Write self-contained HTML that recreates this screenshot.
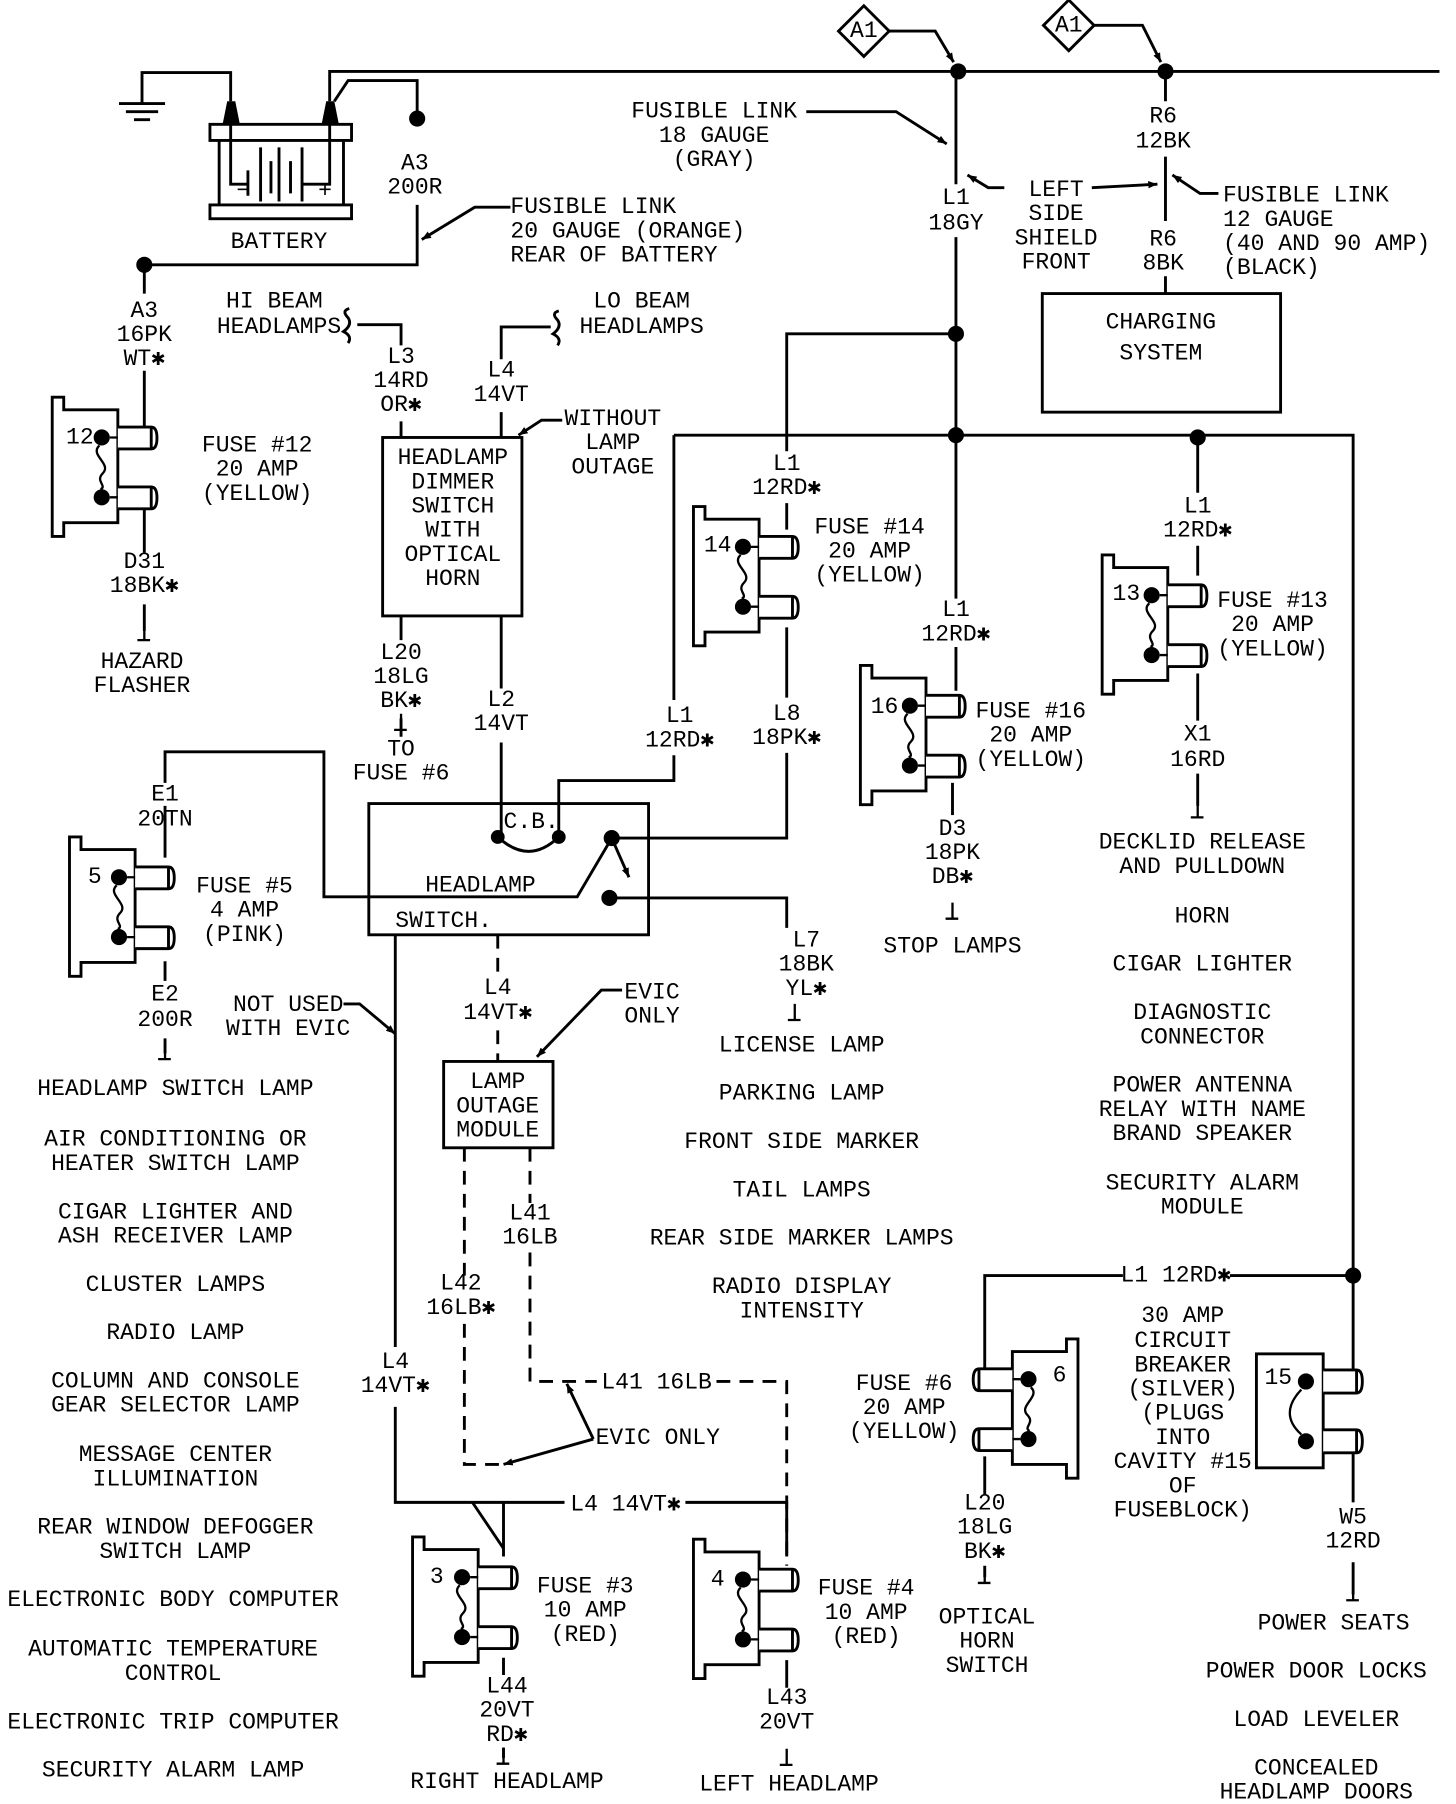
<!DOCTYPE html>
<html><head><meta charset="utf-8"><style>
html,body{margin:0;padding:0;background:#fff}
svg{display:block}
text{font-family:"Liberation Mono",monospace;font-size:20px;fill:#000;dominant-baseline:central}
.c{text-anchor:middle}
</style></head><body>
<svg width="1456" height="1804" viewBox="0 0 1264 1567" xmlns="http://www.w3.org/2000/svg">
<defs>
<marker id="ar" viewBox="0 0 10 10" refX="10" refY="5" markerWidth="8" markerHeight="8" orient="auto-start-reverse" markerUnits="userSpaceOnUse"><path d="M0,1 L10,5 L0,9 Z" fill="#000"/></marker>
<symbol id="fz" overflow="visible">
<path d="M0,0 H10 V11 H57 V109 H10 V121 H0 Z" fill="none" stroke="#000" stroke-width="2.5"/>
<path d="M57,26 H86 Q91,26 91,35.5 Q91,45 86,45 H57 M86,27 V44" fill="#fff" stroke="#000" stroke-width="2.5"/>
<path d="M57,78 H86 Q91,78 91,87.5 Q91,97 86,97 H57 M86,79 V96" fill="#fff" stroke="#000" stroke-width="2.5"/>
<circle cx="43" cy="35" r="7"/><circle cx="43" cy="87" r="7"/>
<path d="M50,35 H57 M50,87 H57" stroke="#000" stroke-width="2"/>
<path d="M41,42 C32,50 52,58 44,66 C37,73 48,77 42,80" fill="none" stroke="#000" stroke-width="2"/>
</symbol>
<symbol id="hk" overflow="visible"><path d="M0,-14 V0 H-6 M0,0 H5" fill="none" stroke="#000" stroke-width="2"/></symbol>
</defs>
<g fill="none" stroke="#000" stroke-width="2.5">
<!-- top wire -->
<path d="M286,88 V62 H1250"/>
<!-- ground -->
<path d="M200,88 V63 H123 V90"/>
<path d="M103,90 H143 M109,97 H137 M116,104 H130"/>
<!-- battery -->
<path d="M290,88 L302,70 H362 V103"/>
<rect x="182" y="108" width="123" height="14"/>
<rect x="182" y="178" width="123" height="12"/>
<path d="M190,122 V178 M298,122 V178"/>
<path d="M200,108 V160 H215 M215,148 V170 M226,128 V175 M235,140 V168 M242,128 V175 M252,140 V168 M262,128 V175 M262,160 H286 V108"/>
<path d="M362,178 V230 H125"/>
<path d="M443,180 H412 L366,208" marker-end="url(#ar)"/>
<!-- A3 left -->
<path d="M125,230 V255 M125,322 V380"/>
<path d="M125,432 V480 M125,525 V548"/>
<!-- A1 diamonds -->
<path d="M750,5 L772,27 L750,49 L728,27 Z"/>
<path d="M928,0 L950,22 L928,44 L906,22 Z"/>
<path d="M772,27 H812 L828,54" marker-end="url(#ar)"/>
<path d="M950,22 H992 L1008,54" marker-end="url(#ar)"/>
<!-- L1 trunk -->
<path d="M830,62 V160 M830,206 V520 M830,562 V600"/>
<path d="M700,97 H778 L822,125" marker-end="url(#ar)"/>
<path d="M872,163 H858 L840,152" marker-end="url(#ar)"/>
<path d="M948,163 L1005,160" marker-end="url(#ar)"/>
<!-- R6 -->
<path d="M1012,62 V88 M1012,136 V192 M1012,240 V255"/>
<path d="M1058,168 H1042 L1018,152" marker-end="url(#ar)"/>
<rect x="905" y="255" width="207" height="103"/>
<!-- branches -->
<path d="M830,290 H683 V392 M683,437 V460"/>
<path d="M585,378 H1175 V1200"/>
<path d="M585,378 V608 M585,656 V678 H485 V727"/>
<path d="M1040,380 V428 M1040,474 V500 M1040,585 V626 M1040,672 V700"/>
<path d="M683,545 V606 M683,654 V728 H537"/>
<path d="M827,680 V708"/>
<!-- HI/LO beam -->
<path d="M310,282 H348 V300 M348,366 V380"/>
<path d="M303,268 Q296,270 302,276 Q306,282 298,288 Q306,292 302,298"/>
<path d="M485,270 Q478,272 484,278 Q488,284 480,290 Q488,294 484,300"/>
<path d="M478,284 H435 V312 M435,358 V380"/>
<path d="M488,365 H470 L450,378" marker-end="url(#ar)"/>
<rect x="332" y="380" width="121" height="155"/>
<path d="M348,535 V556 M348,624 V640"/>
<path d="M435,535 V598 M435,645 V727"/>
<!-- headlamp switch -->
<rect x="320" y="698" width="243" height="114"/>
<path d="M432,727 Q459,752 485,727"/>
<path d="M143,680 V653 H281 V779 H501 L531,728"/>
<path d="M531,728 L546,762" marker-end="url(#ar)"/>
<path d="M529,780 H683 V806"/>
<path d="M143,700 V745 M143,835 V852 M143,902 V915"/>
<!-- not used w evic -->
<path d="M343,812 V1170 M343,1222 V1305 H490 M595,1305 H683 V1352 M437,1305 V1352"/>
<path d="M298,872 H312 L343,898" marker-end="url(#ar)"/>
<path d="M410,1305 L437,1345"/>
<!-- LOM -->
<rect x="385" y="922" width="95" height="75"/>
<path d="M540,860 H522 L466,918" marker-end="url(#ar)"/>
<path d="M437,1440 V1455 M683,1442 V1466 M437,1518 V1527"/>
<!-- fuse 6 / 15 -->
<path d="M855,1188 V1108 H975 M1068,1108 H1175"/>
<path d="M855,1265 V1298 M855,1360 V1370"/>
<rect x="1091" y="1176" width="58" height="99"/>
<path d="M1149,1190 H1178 Q1183,1190 1183,1200 Q1183,1210 1178,1210 H1149 M1178,1191 V1209" fill="#fff"/>
<path d="M1149,1242 H1178 Q1183,1242 1183,1252 Q1183,1262 1178,1262 H1149 M1178,1243 V1261" fill="#fff"/>
<path d="M1175,1262 V1305 M1175,1357 V1385"/>
<path d="M1130,1207 Q1110,1228 1130,1246" stroke-width="2"/>
</g>
<g fill="none" stroke="#000" stroke-width="2.5" stroke-dasharray="12,8">
<path d="M432,812 V848 M432,895 V922"/>
<path d="M403,997 V1108 M403,1150 V1272 H437"/>
<path d="M460,997 V1045 M460,1088 V1200 H518 M622,1200 H683 V1360"/>
</g>
<g fill="none" stroke="#000" stroke-width="2.5">
<path d="M515,1250 L492,1202" marker-end="url(#ar)"/>
<path d="M515,1250 L437,1272" marker-end="url(#ar)"/>
</g>
<!-- dots -->
<g fill="#000">
<circle cx="362" cy="103" r="7"/><circle cx="125" cy="230" r="7"/>
<circle cx="832" cy="62" r="7"/><circle cx="1012" cy="62" r="7"/>
<circle cx="830" cy="290" r="7"/><circle cx="830" cy="378" r="7"/><circle cx="1040" cy="380" r="7"/>
<circle cx="1175" cy="1108" r="7"/>
<circle cx="432" cy="727" r="6"/><circle cx="485" cy="727" r="6"/>
<circle cx="531" cy="728" r="7"/><circle cx="529" cy="780" r="7"/>
<circle cx="1134" cy="1200" r="7"/><circle cx="1134" cy="1252" r="7"/>
<path d="M193,108 L197,88 H204 L208,108 Z M279,108 L283,88 H290 L294,108 Z"/>
</g>
<!-- fuses -->
<use href="#fz" x="45" y="345"/>
<use href="#fz" x="602" y="440"/>
<use href="#fz" x="957" y="482"/>
<use href="#fz" x="747" y="578"/>
<use href="#fz" x="60" y="727"/>
<use href="#fz" x="358" y="1335"/>
<use href="#fz" x="602" y="1337"/>
<use href="#fz" transform="translate(936,1163) scale(-1,1)"/>
<!-- hooks -->
<g><use href="#hk" x="125" y="556"/><use href="#hk" x="348" y="634"/><use href="#hk" x="143" y="920"/>
<use href="#hk" x="690" y="886"/><use href="#hk" x="827" y="798"/><use href="#hk" x="1040" y="710"/>
<use href="#hk" x="437" y="1532"/><use href="#hk" x="683" y="1533"/><use href="#hk" x="855" y="1375"/><use href="#hk" x="1175" y="1390"/></g>
<!-- text -->
<text x="205" y="166">−</text><text x="276" y="166">+</text>
<text class="c" x="242" y="210">BATTERY</text>
<text class="c" x="360" y="142">A3</text><text class="c" x="360" y="163">200R</text>
<text x="443" y="180">FUSIBLE LINK</text><text x="443" y="201">20 GAUGE (ORANGE)</text><text x="443" y="222">REAR OF BATTERY</text>
<text class="c" x="750" y="27">A1</text><text class="c" x="928" y="22">A1</text>
<text class="c" x="620" y="97">FUSIBLE LINK</text><text class="c" x="620" y="118">18 GAUGE</text><text class="c" x="620" y="139">(GRAY)</text>
<text class="c" x="830" y="172">L1</text><text class="c" x="830" y="194">18GY</text>
<text class="c" x="917" y="165">LEFT</text><text class="c" x="917" y="186">SIDE</text><text class="c" x="917" y="207">SHIELD</text><text class="c" x="917" y="228">FRONT</text>
<text class="c" x="1010" y="101">R6</text><text class="c" x="1010" y="123">12BK</text>
<text class="c" x="1010" y="208">R6</text><text class="c" x="1010" y="229">8BK</text>
<text x="1062" y="170">FUSIBLE LINK</text><text x="1062" y="191">12 GAUGE</text><text x="1062" y="212">(40 AND 90 AMP)</text><text x="1062" y="233">(BLACK)</text>
<text class="c" x="1008" y="280">CHARGING</text><text class="c" x="1008" y="307">SYSTEM</text>
<text class="c" x="125" y="270">A3</text><text class="c" x="125" y="291">16PK</text><text class="c" x="125" y="312">WT✱</text>
<text class="c" x="238" y="262">HI BEAM</text><text class="c" x="242" y="284">HEADLAMPS</text>
<text class="c" x="557" y="262">LO BEAM</text><text class="c" x="557" y="284">HEADLAMPS</text>
<text class="c" x="348" y="310">L3</text><text class="c" x="348" y="331">14RD</text><text class="c" x="348" y="352">OR✱</text>
<text class="c" x="435" y="322">L4</text><text class="c" x="435" y="343">14VT</text>
<text class="c" x="532" y="364">WITHOUT</text><text class="c" x="532" y="385">LAMP</text><text class="c" x="532" y="406">OUTAGE</text>
<text class="c" x="393" y="398">HEADLAMP</text><text class="c" x="393" y="419">DIMMER</text><text class="c" x="393" y="440">SWITCH</text><text class="c" x="393" y="461">WITH</text><text class="c" x="393" y="482">OPTICAL</text><text class="c" x="393" y="503">HORN</text>
<text x="57" y="380">12</text>
<text class="c" x="223" y="387">FUSE #12</text><text class="c" x="223" y="408">20 AMP</text><text class="c" x="223" y="429">(YELLOW)</text>
<text class="c" x="125" y="488">D31</text><text class="c" x="125" y="509">18BK✱</text>
<text class="c" x="123" y="575">HAZARD</text><text class="c" x="123" y="596">FLASHER</text>
<text class="c" x="683" y="403">L1</text><text class="c" x="683" y="424">12RD✱</text>
<text x="611" y="474">14</text>
<text class="c" x="755" y="458">FUSE #14</text><text class="c" x="755" y="479">20 AMP</text><text class="c" x="755" y="500">(YELLOW)</text>
<text class="c" x="1040" y="440">L1</text><text class="c" x="1040" y="461">12RD✱</text>
<text x="966" y="516">13</text>
<text class="c" x="1105" y="522">FUSE #13</text><text class="c" x="1105" y="543">20 AMP</text><text class="c" x="1105" y="564">(YELLOW)</text>
<text class="c" x="1040" y="638">X1</text><text class="c" x="1040" y="660">16RD</text>
<text class="c" x="830" y="530">L1</text><text class="c" x="830" y="551">12RD✱</text>
<text x="756" y="614">16</text>
<text class="c" x="895" y="618">FUSE #16</text><text class="c" x="895" y="639">20 AMP</text><text class="c" x="895" y="660">(YELLOW)</text>
<text class="c" x="827" y="720">D3</text><text class="c" x="827" y="741">18PK</text><text class="c" x="827" y="762">DB✱</text>
<text class="c" x="827" y="822">STOP LAMPS</text>
<text class="c" x="1044" y="732">DECKLID RELEASE</text><text class="c" x="1044" y="753">AND PULLDOWN</text>
<text class="c" x="1044" y="796">HORN</text><text class="c" x="1044" y="838">CIGAR LIGHTER</text>
<text class="c" x="1044" y="880">DIAGNOSTIC</text><text class="c" x="1044" y="901">CONNECTOR</text>
<text class="c" x="1044" y="943">POWER ANTENNA</text><text class="c" x="1044" y="964">RELAY WITH NAME</text><text class="c" x="1044" y="985">BRAND SPEAKER</text>
<text class="c" x="1044" y="1028">SECURITY ALARM</text><text class="c" x="1044" y="1049">MODULE</text>
<text class="c" x="348" y="567">L20</text><text class="c" x="348" y="588">18LG</text><text class="c" x="348" y="609">BK✱</text>
<text class="c" x="348" y="651">TO</text><text class="c" x="348" y="672">FUSE #6</text>
<text class="c" x="435" y="608">L2</text><text class="c" x="435" y="629">14VT</text>
<text class="c" x="590" y="622">L1</text><text class="c" x="590" y="643">12RD✱</text>
<text class="c" x="683" y="620">L8</text><text class="c" x="683" y="641">18PK✱</text>
<text class="c" x="461" y="714">C.B.</text>
<text class="c" x="417" y="769">HEADLAMP</text><text class="c" x="385" y="800">SWITCH.</text>
<text class="c" x="143" y="690">E1</text><text class="c" x="143" y="712">20TN</text>
<text x="76" y="762">5</text>
<text class="c" x="212" y="770">FUSE #5</text><text class="c" x="212" y="791">4 AMP</text><text class="c" x="212" y="812">(PINK)</text>
<text class="c" x="143" y="864">E2</text><text class="c" x="143" y="886">200R</text>
<text class="c" x="700" y="817">L7</text><text class="c" x="700" y="838">18BK</text><text class="c" x="700" y="859">YL✱</text>
<text class="c" x="250" y="873">NOT USED</text><text class="c" x="250" y="894">WITH EVIC</text>
<text class="c" x="432" y="858">L4</text><text class="c" x="432" y="880">14VT✱</text>
<text x="542" y="862">EVIC</text><text x="542" y="883">ONLY</text>
<text class="c" x="432" y="940">LAMP</text><text class="c" x="432" y="961">OUTAGE</text><text class="c" x="432" y="982">MODULE</text>
<text class="c" x="696" y="908">LICENSE LAMP</text><text class="c" x="696" y="950">PARKING LAMP</text><text class="c" x="696" y="992">FRONT SIDE MARKER</text>
<text class="c" x="696" y="1034">TAIL LAMPS</text><text class="c" x="696" y="1076">REAR SIDE MARKER LAMPS</text>
<text class="c" x="696" y="1118">RADIO DISPLAY</text><text class="c" x="696" y="1139">INTENSITY</text>
<text class="c" x="460" y="1054">L41</text><text class="c" x="460" y="1075">16LB</text>
<text class="c" x="400" y="1115">L42</text><text class="c" x="400" y="1136">16LB✱</text>
<text class="c" x="570" y="1201">L41 16LB</text>
<text x="517" y="1249">EVIC ONLY</text>
<text class="c" x="343" y="1183">L4</text><text class="c" x="343" y="1204">14VT✱</text>
<text class="c" x="543" y="1307">L4 14VT✱</text>
<text class="c" x="152" y="946">HEADLAMP SWITCH LAMP</text>
<text class="c" x="152" y="990">AIR CONDITIONING OR</text><text class="c" x="152" y="1011">HEATER SWITCH LAMP</text>
<text class="c" x="152" y="1053">CIGAR LIGHTER AND</text><text class="c" x="152" y="1074">ASH RECEIVER LAMP</text>
<text class="c" x="152" y="1116">CLUSTER LAMPS</text><text class="c" x="152" y="1158">RADIO LAMP</text>
<text class="c" x="152" y="1200">COLUMN AND CONSOLE</text><text class="c" x="152" y="1221">GEAR SELECTOR LAMP</text>
<text class="c" x="152" y="1264">MESSAGE CENTER</text><text class="c" x="152" y="1285">ILLUMINATION</text>
<text class="c" x="152" y="1327">REAR WINDOW DEFOGGER</text><text class="c" x="152" y="1348">SWITCH LAMP</text>
<text class="c" x="150" y="1390">ELECTRONIC BODY COMPUTER</text>
<text class="c" x="150" y="1433">AUTOMATIC TEMPERATURE</text><text class="c" x="150" y="1454">CONTROL</text>
<text class="c" x="150" y="1496">ELECTRONIC TRIP COMPUTER</text>
<text class="c" x="150" y="1538">SECURITY ALARM LAMP</text>
<text x="373" y="1370">3</text>
<text class="c" x="508" y="1378">FUSE #3</text><text class="c" x="508" y="1399">10 AMP</text><text class="c" x="508" y="1420">(RED)</text>
<text class="c" x="440" y="1465">L44</text><text class="c" x="440" y="1486">20VT</text><text class="c" x="440" y="1507">RD✱</text>
<text class="c" x="440" y="1548">RIGHT HEADLAMP</text>
<text x="617" y="1372">4</text>
<text class="c" x="752" y="1380">FUSE #4</text><text class="c" x="752" y="1401">10 AMP</text><text class="c" x="752" y="1422">(RED)</text>
<text class="c" x="683" y="1475">L43</text><text class="c" x="683" y="1496">20VT</text>
<text class="c" x="685" y="1550">LEFT HEADLAMP</text>
<text class="c" x="1021" y="1108">L1 12RD✱</text>
<text x="914" y="1195">6</text>
<text class="c" x="785" y="1202">FUSE #6</text><text class="c" x="785" y="1223">20 AMP</text><text class="c" x="785" y="1244">(YELLOW)</text>
<text class="c" x="855" y="1306">L20</text><text class="c" x="855" y="1327">18LG</text><text class="c" x="855" y="1348">BK✱</text>
<text class="c" x="857" y="1405">OPTICAL</text><text class="c" x="857" y="1426">HORN</text><text class="c" x="857" y="1447">SWITCH</text>
<text class="c" x="1027" y="1143">30 AMP</text><text class="c" x="1027" y="1165">CIRCUIT</text><text class="c" x="1027" y="1186">BREAKER</text>
<text class="c" x="1027" y="1207">(SILVER)</text><text class="c" x="1027" y="1228">(PLUGS</text><text class="c" x="1027" y="1249">INTO</text>
<text class="c" x="1027" y="1270">CAVITY #15</text><text class="c" x="1027" y="1291">OF</text><text class="c" x="1027" y="1312">FUSEBLOCK)</text>
<text x="1098" y="1197">15</text>
<text class="c" x="1175" y="1318">W5</text><text class="c" x="1175" y="1339">12RD</text>
<text class="c" x="1158" y="1410">POWER SEATS</text><text class="c" x="1143" y="1452">POWER DOOR LOCKS</text>
<text class="c" x="1143" y="1494">LOAD LEVELER</text>
<text class="c" x="1143" y="1536">CONCEALED</text><text class="c" x="1143" y="1557">HEADLAMP DOORS</text>
</svg>
</body></html>
